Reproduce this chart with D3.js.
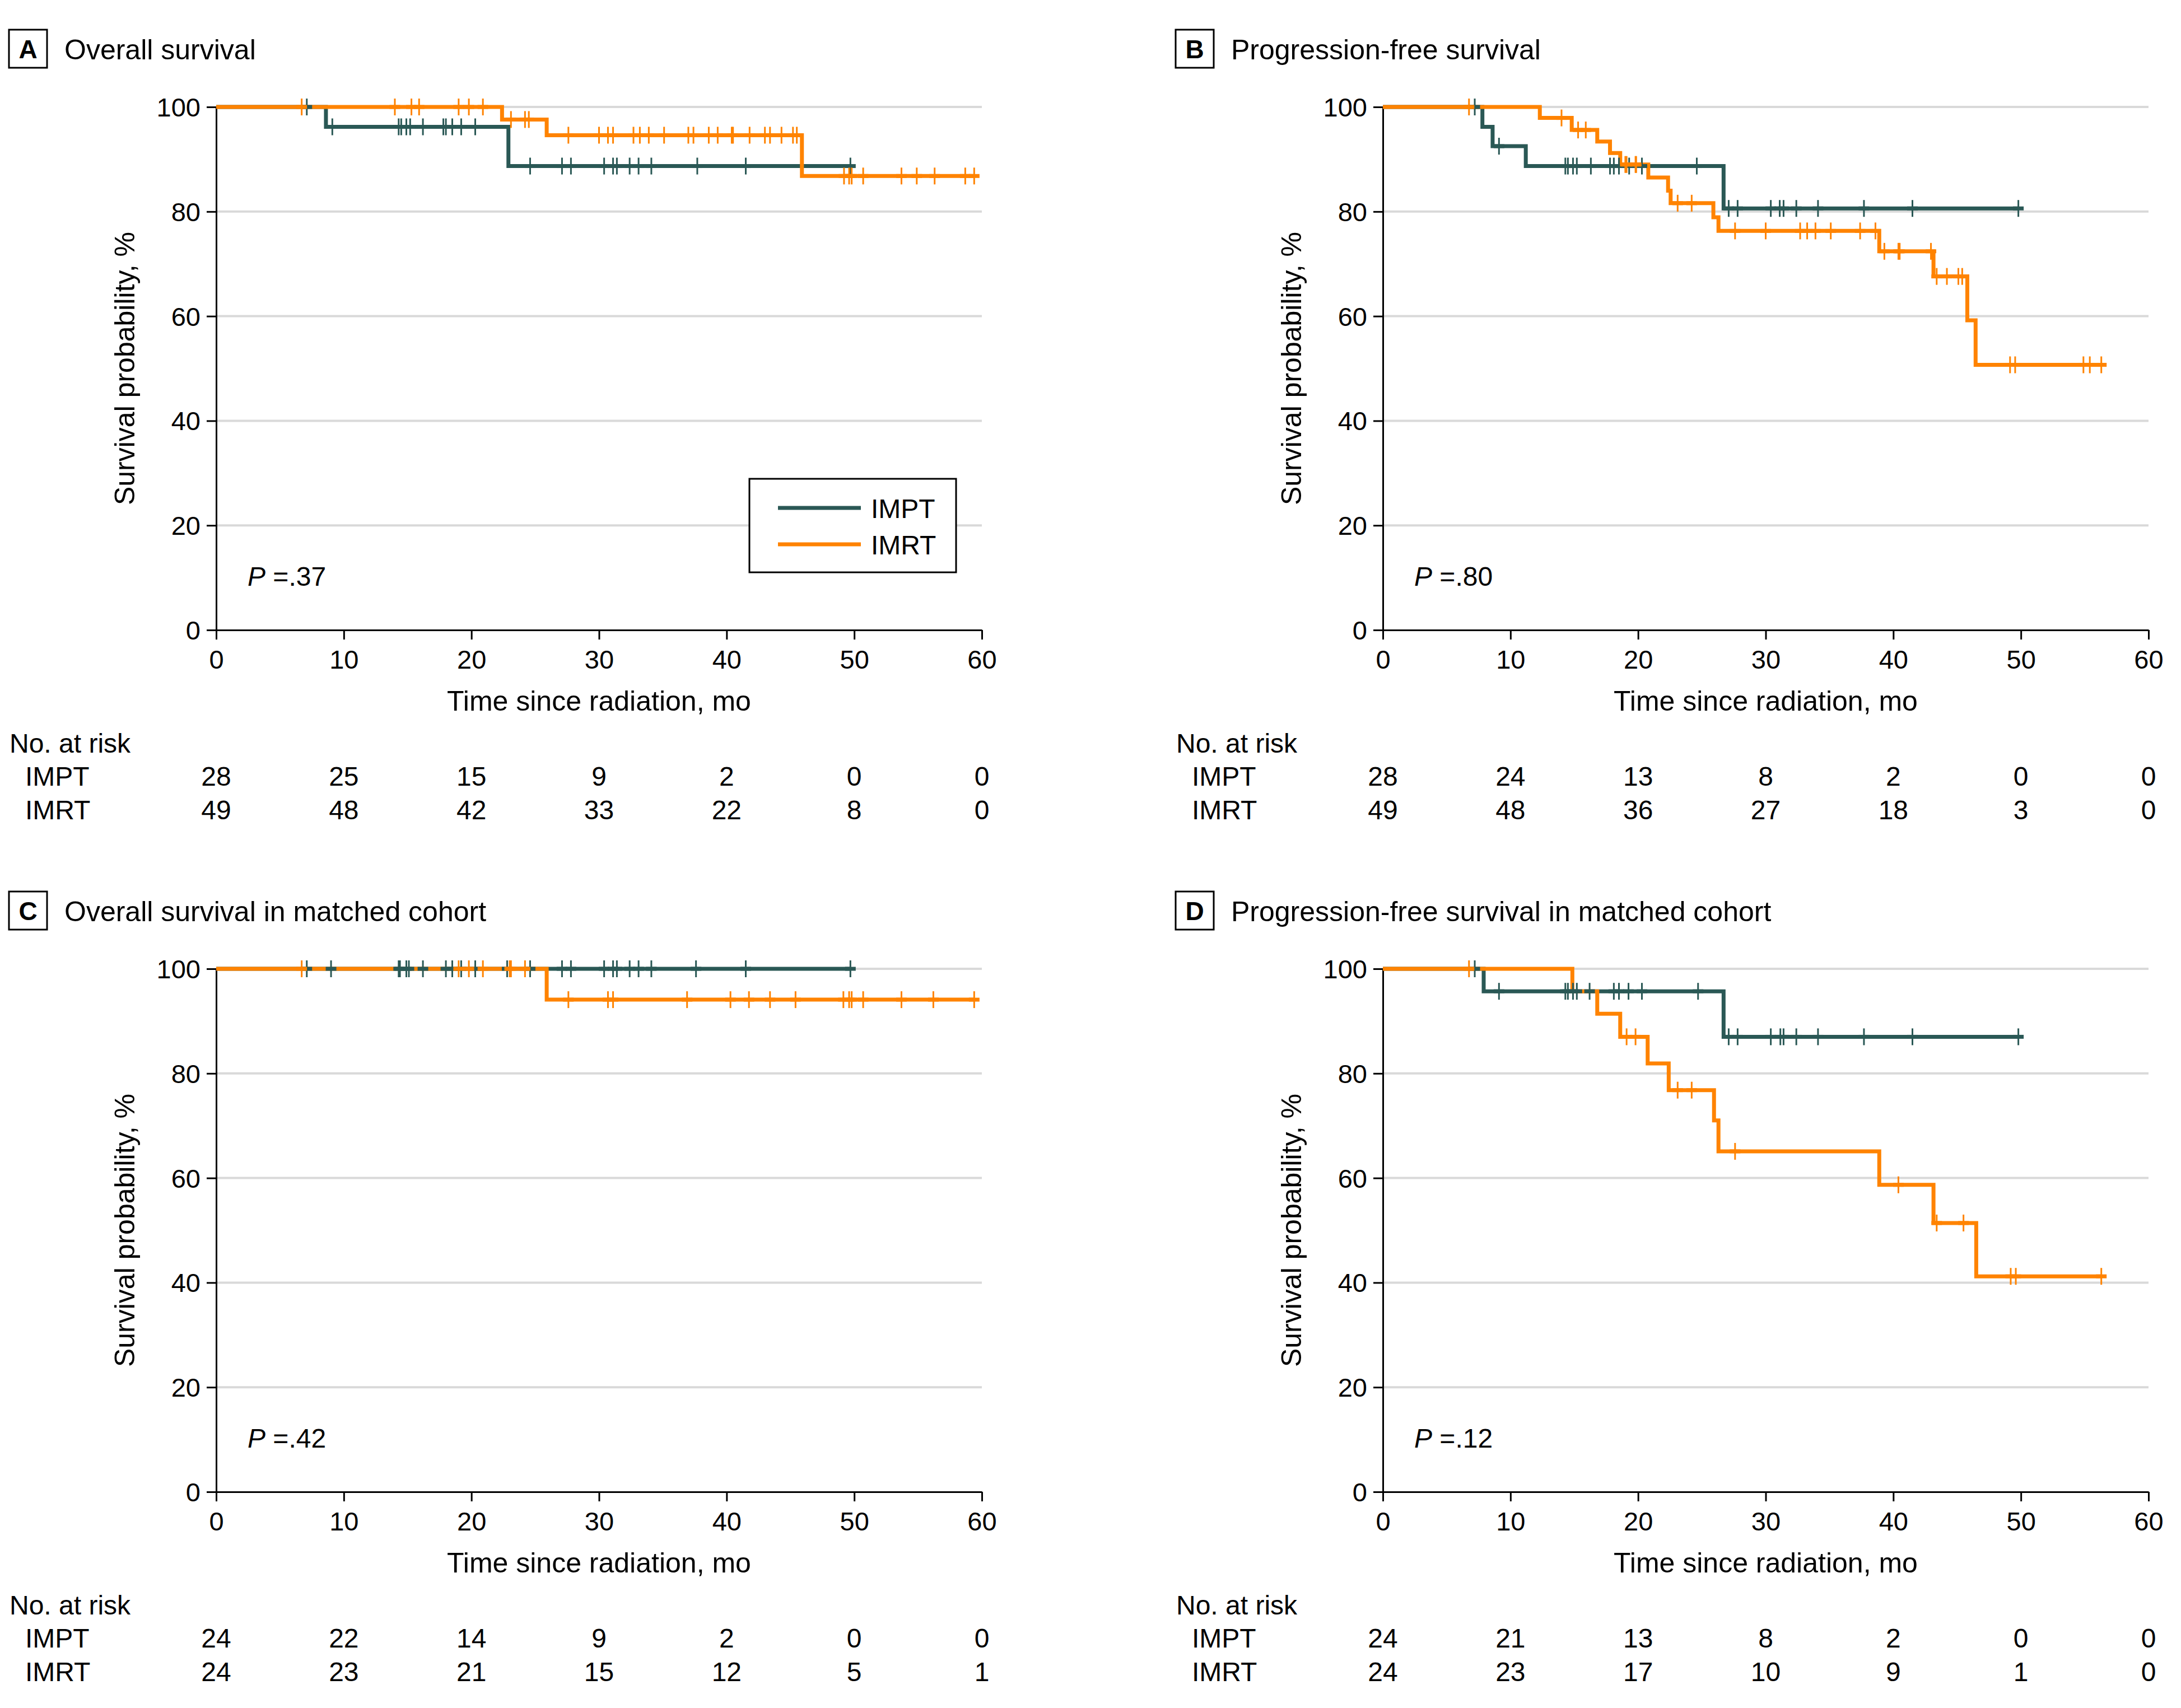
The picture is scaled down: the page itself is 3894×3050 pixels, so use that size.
<!DOCTYPE html>
<html><head><meta charset="utf-8">
<script src="https://cdn.jsdelivr.net/npm/d3@7"></script>
<style>body{margin:0;background:#fff} svg{display:block}</style>
</head><body>
<script>
// ---------------- DATA ----------------
const panelLetters = ["A", "B", "C", "D"];
const panelTitles = ["Overall survival", "Progression-free survival",
  "Overall survival in matched cohort", "Progression-free survival in matched cohort"];
const pValues = [".37", ".80", ".42", ".12"];
const seriesNames = ["IMPT", "IMRT"];
const xTicks = [0, 10, 20, 30, 40, 50, 60];
const yTicks = [0, 20, 40, 60, 80, 100];
const xLabel = "Time since radiation, mo";
const yLabel = "Survival probability, %";
const riskLabel = "No. at risk";

// Panel A: overall survival
const aImptSteps = [[0, 100], [8.6, 96.2], [22.9, 88.7]];
const aImptCensor = [7.1, 9.1, 14.3, 14.5, 14.9, 15.2, 16.2, 17.8, 18.0, 18.5, 19.2, 20.3, 24.6, 27.1, 27.8,
  30.4, 31.1, 31.4, 32.4, 33.1, 34.1, 37.7, 41.5, 49.7];
const aImrtSteps = [[0, 100], [22.4, 97.6], [25.9, 94.6], [45.9, 86.8]];
const aImrtCensor = [6.7, 14.0, 15.3, 15.9, 19.0, 19.8, 20.9, 23.1, 24.2, 24.5, 27.6, 30.0, 30.7, 31.1, 32.7,
  33.2, 33.9, 35.1, 37.0, 37.4, 38.6, 39.3, 40.4, 40.5, 41.8, 43.0, 43.4, 44.3, 45.2, 45.5, 49.2, 49.6, 49.8,
  50.7, 53.7, 54.9, 56.3, 58.7, 59.4];
const aRiskImpt = [28, 25, 15, 9, 2, 0, 0];
const aRiskImrt = [49, 48, 42, 33, 22, 8, 0];

// Panel B: progression-free survival
const bImptSteps = [[0, 100], [7.8, 96.2], [8.6, 92.5], [11.2, 88.7], [26.7, 80.6]];
const bImptCensor = [7.2, 9.1, 14.3, 14.5, 14.9, 15.2, 16.3, 17.8, 18.1, 18.5, 19.3, 20.3, 24.6, 27.1, 27.8,
  30.4, 31.1, 31.4, 32.4, 34.1, 37.7, 41.5, 49.8];
const bImrtSteps = [[0, 100], [12.3, 97.9], [14.8, 95.6], [16.8, 93.4], [17.8, 91.2], [18.6, 89.0], [20.8, 86.5],
  [22.35, 84.0], [22.55, 81.6], [25.9, 78.9], [26.3, 76.3], [38.9, 72.4], [43.15, 67.6], [45.8, 59.2], [46.45, 50.7]];
const bImrtCensor = [6.75, 14.0, 15.3, 15.9, 19.0, 19.1, 19.8, 19.85, 23.1, 24.2, 27.6, 30.0, 32.7, 33.25, 33.9,
  35.1, 37.4, 38.6, 39.3, 40.4, 40.5, 42.95, 43.4, 44.2, 45.1, 45.4, 49.15, 49.55, 54.9, 55.4, 56.3];
const bRiskImpt = [28, 24, 13, 8, 2, 0, 0];
const bRiskImrt = [49, 48, 36, 27, 18, 3, 0];

// Panel C: overall survival, matched cohort
const cImptSteps = [[0, 100]];
const cImptCensor = [7.1, 9.0, 14.3, 14.4, 14.9, 15.1, 16.2, 18.0, 18.5, 19.2, 20.3, 22.8, 24.6, 27.1, 27.8,
  30.4, 31.1, 31.4, 32.4, 33.1, 34.1, 37.6, 41.5, 49.7];
const cImrtSteps = [[0, 100], [25.9, 94.1]];
const cImrtCensor = [6.7, 19.0, 19.8, 20.9, 23.0, 23.1, 24.2, 27.6, 30.7, 31.1, 36.9, 40.3, 41.75, 43.4, 45.4,
  49.15, 49.6, 49.8, 50.7, 53.7, 56.2, 59.4];
const cRiskImpt = [24, 22, 14, 9, 2, 0, 0];
const cRiskImrt = [24, 23, 21, 15, 12, 5, 1];

// Panel D: progression-free survival, matched cohort
const dImptSteps = [[0, 100], [7.9, 95.7], [26.7, 87.0]];
const dImptCensor = [7.2, 9.1, 14.3, 14.5, 14.9, 15.2, 16.2, 18.1, 18.5, 19.25, 20.3, 24.7, 27.1, 27.8,
  30.4, 31.15, 31.4, 32.4, 34.1, 37.7, 41.5, 49.8];
const dImrtSteps = [[0, 100], [14.85, 95.7], [16.8, 91.4], [18.6, 87.0], [20.75, 81.9], [22.4, 76.8],
  [25.95, 71.0], [26.3, 65.1], [38.9, 58.7], [43.15, 51.4], [46.5, 41.2]];
const dImrtCensor = [6.75, 19.1, 19.8, 23.1, 24.2, 27.6, 40.4, 43.4, 45.5, 49.2, 49.6, 56.3];
const dRiskImpt = [24, 21, 13, 8, 2, 0, 0];
const dRiskImrt = [24, 23, 17, 10, 9, 1, 0];

// ---------------- LAYOUT / STYLE ----------------
const W = 3894, H = 3050;
const FONT = '"Liberation Sans", Arial, sans-serif';
const COLORS = ["#2a5855", "#ff8300"];
const panelOrigin = [[386, 191], [2469, 191], [386, 1730], [2469, 1730]];
const plotW = 1367, plotH = 934;

const panelData = [
  {steps: [aImptSteps, aImrtSteps], cens: [aImptCensor, aImrtCensor], risk: [aRiskImpt, aRiskImrt]},
  {steps: [bImptSteps, bImrtSteps], cens: [bImptCensor, bImrtCensor], risk: [bRiskImpt, bRiskImrt]},
  {steps: [cImptSteps, cImrtSteps], cens: [cImptCensor, cImrtCensor], risk: [cRiskImpt, cRiskImrt]},
  {steps: [dImptSteps, dImrtSteps], cens: [dImptCensor, dImrtCensor], risk: [dRiskImpt, dRiskImrt]}
];

const svg = d3.select("body").append("svg")
  .attr("width", W).attr("height", H)
  .style("background", "#fff")
  .attr("font-family", FONT);

svg.append("rect").attr("width", W).attr("height", H).attr("fill", "#fff");

function survAt(steps, t) {
  let s = steps[0][1];
  for (const [tt, ss] of steps) if (tt <= t) s = ss;
  return s;
}

function drawPanel(i) {
  const [ox, oy] = panelOrigin[i];
  const pd = panelData[i];
  const g = svg.append("g");
  const x = d3.scaleLinear().domain([0, 60]).range([ox, ox + plotW]);
  const y = d3.scaleLinear().domain([0, 100]).range([oy + plotH, oy]);

  // header
  g.append("rect").attr("x", ox - 370).attr("y", oy - 138).attr("width", 68).attr("height", 68)
    .attr("fill", "none").attr("stroke", "#000").attr("stroke-width", 3);
  g.append("text").attr("x", ox - 336).attr("y", oy - 87).attr("text-anchor", "middle")
    .attr("font-size", 46).attr("font-weight", "bold").text(panelLetters[i]);
  g.append("text").attr("x", ox - 271).attr("y", oy - 85).attr("font-size", 50).text(panelTitles[i]);

  // gridlines
  g.append("g").selectAll("line").data(yTicks.filter(v => v > 0)).join("line")
    .attr("x1", x(0)).attr("x2", x(60)).attr("y1", d => y(d)).attr("y2", d => y(d))
    .attr("stroke", "#d9d9d9").attr("stroke-width", 4);

  // axes
  const ya = g.append("g").attr("transform", `translate(${x(0)},0)`)
    .call(d3.axisLeft(y).tickValues(yTicks).tickSize(17).tickPadding(11).tickSizeOuter(0));
  const xa = g.append("g").attr("transform", `translate(0,${y(0)})`)
    .call(d3.axisBottom(x).tickValues(xTicks).tickSize(17).tickSizeOuter(0));
  [ya, xa].forEach(a => {
    a.attr("font-family", FONT).attr("font-size", 47);
    a.select(".domain").attr("stroke", "#000").attr("stroke-width", 3);
    a.selectAll(".tick line").attr("stroke", "#000").attr("stroke-width", 3);
    a.selectAll(".tick text").attr("fill", "#000");
  });
  ya.selectAll(".tick text").attr("dy", "0.35em");
  xa.selectAll(".tick text").attr("y", 69).attr("dy", 0);

  // axis titles
  g.append("text").attr("transform", `translate(${ox - 146},${y(50)}) rotate(-90)`)
    .attr("text-anchor", "middle").attr("font-size", 50).text(yLabel);
  g.append("text").attr("x", x(30)).attr("y", y(0) + 144).attr("text-anchor", "middle")
    .attr("font-size", 50).text(xLabel);

  // p value
  const pt = g.append("text").attr("x", ox + 56).attr("y", y(0) - 79).attr("font-size", 48);
  pt.append("tspan").attr("font-style", "italic").text("P");
  pt.append("tspan").text(" =" + pValues[i]);

  // curves
  const line = d3.line().x(d => x(d[0])).y(d => y(d[1])).curve(d3.curveStepAfter);
  [0, 1].forEach(s => {
    const steps = pd.steps[s];
    const end = Math.max(d3.max(pd.cens[s]), steps[steps.length - 1][0]);
    const pts = steps.concat([[end, steps[steps.length - 1][1]]]);
    g.append("path").attr("d", line(pts)).attr("fill", "none")
      .attr("stroke", COLORS[s]).attr("stroke-width", 7);
  });
  // censor marks
  [0, 1].forEach(s => {
    const mg = g.append("g");
    pd.cens[s].forEach(t => {
      const v = survAt(pd.steps[s], t);
      mg.append("line").attr("x1", x(t) - 9.5).attr("x2", x(t) + 9.5).attr("y1", y(v)).attr("y2", y(v))
        .attr("stroke", COLORS[s]).attr("stroke-width", 7);
      mg.append("line").attr("x1", x(t)).attr("x2", x(t)).attr("y1", y(v) - 15).attr("y2", y(v) + 15)
        .attr("stroke", COLORS[s]).attr("stroke-width", 3);
    });
  });

  // number at risk
  g.append("text").attr("x", ox - 369).attr("y", y(0) + 219).attr("font-size", 48).text(riskLabel);
  [0, 1].forEach(s => {
    const ry = y(0) + 278 + s * 60;
    g.append("text").attr("x", ox - 341).attr("y", ry).attr("font-size", 48).text(seriesNames[s]);
    g.append("g").selectAll("text").data(pd.risk[s]).join("text")
      .attr("x", (d, k) => x(xTicks[k])).attr("y", ry).attr("text-anchor", "middle")
      .attr("font-size", 48).text(d => d);
  });

  // legend (panel A only)
  if (i === 0) {
    const lg = g.append("g");
    lg.append("rect").attr("x", 1338).attr("y", 855).attr("width", 369).attr("height", 167)
      .attr("fill", "#fff").attr("stroke", "#000").attr("stroke-width", 3);
    [0, 1].forEach(s => {
      const ly = 907 + s * 65;
      lg.append("line").attr("x1", 1389).attr("x2", 1537).attr("y1", ly).attr("y2", ly)
        .attr("stroke", COLORS[s]).attr("stroke-width", 7);
      lg.append("text").attr("x", 1555).attr("y", ly + 18).attr("font-size", 48).text(seriesNames[s]);
    });
  }
}

[0, 1, 2, 3].forEach(drawPanel);
</script>
</body></html>
